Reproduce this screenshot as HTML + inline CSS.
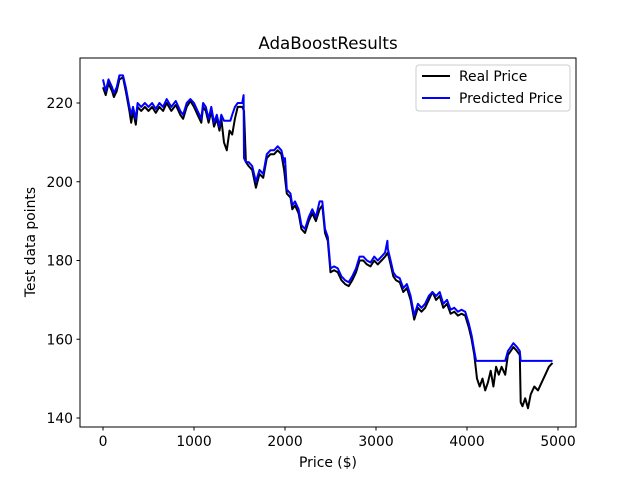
<!DOCTYPE html>
<html><head><meta charset="utf-8"><style>
body{margin:0;background:#fff;}
svg text{font-family:"DejaVu Sans","Liberation Sans",sans-serif;fill:#000;}
</style></head><body>
<svg id="chart" width="640" height="480" xmlns="http://www.w3.org/2000/svg">
<rect width="640" height="480" fill="#fff"/>
<text x="328" y="49" font-size="16.7" text-anchor="middle">AdaBoostResults</text>
<g id="marks"></g>
<rect x="80" y="58" width="496" height="369" fill="none" stroke="#000" stroke-width="1"/>
<g id="axes"></g>
<text x="328" y="467" font-size="13.9" text-anchor="middle">Price ($)</text>
<text transform="translate(35,242) rotate(-90)" font-size="13.9" text-anchor="middle">Test data points</text>
<g>
<rect x="416" y="65" width="154" height="46" rx="3" fill="#fff" stroke="#ccc" stroke-width="1"/>
<line x1="422" y1="76" x2="450" y2="76" stroke="#000" stroke-width="2"/>
<text x="459" y="81" font-size="13.9">Real Price</text>
<line x1="422" y1="98" x2="450" y2="98" stroke="#0000ff" stroke-width="2"/>
<text x="459" y="103" font-size="13.9">Predicted Price</text>
</g>
</svg>
<script>
const xTicks=[0,1000,2000,3000,4000,5000];
const yTicks=[140,160,180,200,220];
const realX=[0,30,60,100,120,150,180,220,250,290,310,330,360,380,420,460,500,540,580,620,660,700,750,800,850,880,920,960,1000,1040,1080,1100,1130,1160,1190,1220,1250,1280,1300,1330,1360,1390,1420,1450,1480,1530,1550,1570,1600,1640,1680,1720,1760,1800,1840,1880,1920,1960,1990,2020,2060,2080,2110,2150,2180,2220,2260,2300,2340,2380,2410,2440,2470,2500,2540,2580,2620,2660,2700,2740,2780,2820,2860,2900,2940,2980,3020,3060,3100,3130,3160,3190,3220,3260,3300,3340,3380,3420,3460,3500,3540,3580,3620,3660,3700,3740,3780,3820,3860,3900,3940,3980,4020,4050,4080,4110,4140,4170,4200,4230,4260,4290,4320,4350,4380,4420,4450,4480,4510,4550,4580,4590,4610,4640,4670,4700,4740,4780,4820,4860,4900,4940];
const realY=[224,222,225,223,221.5,223,226,226.5,223,218,215,218,214.5,219,218,219,218,219,217.5,219,218,220,218,219.5,217,216,219,220.5,219,217,215,219,218,215,218,214,216,213,216,210,208,213,212,216,219,219,218,205,204,203,198.5,202,201,206,207,207,208,207,203,197,196,193,194,192,188,187,190,192,190,193,194,187,185,177,177.5,177,175,174,173.5,175,177,180,180,179,178.5,180,179,180,181,182,179,176,175,174.5,172,173,170,165,168,167,168,170,172,170,171,168,169,166.5,167,166,166.5,166,163,160,156,150,148,150,147,149,152,148,153,151,153,151,156,157,158,157,156,144,143,145,142.5,146,148,147,149,151,153,154];
const predX=[0,30,60,100,120,150,180,220,250,290,310,330,360,380,420,460,500,540,580,620,660,700,750,800,850,880,920,960,1000,1040,1080,1100,1130,1160,1190,1220,1250,1280,1300,1330,1400,1420,1450,1480,1530,1545,1550,1570,1600,1640,1680,1720,1760,1800,1840,1880,1920,1960,1990,2000,2020,2060,2080,2110,2150,2180,2220,2260,2300,2340,2380,2410,2440,2470,2500,2540,2580,2620,2660,2700,2740,2780,2820,2860,2900,2940,2980,3020,3060,3100,3125,3130,3160,3190,3220,3260,3300,3340,3380,3420,3460,3500,3540,3580,3620,3660,3700,3740,3780,3820,3860,3900,3940,3980,4020,4050,4080,4100,4420,4450,4480,4510,4550,4580,4590,4940];
const predY=[226,223,226,224,222.5,224,227,227,224,219,217,219,216,220,219,220,219,220,218.5,220,219,221,219,220.5,218,217,220,221,220,218,216,220,219,216,219,215,217,214,217,215.5,215.5,217,219,220,220,222,206,205,205,204,200,203,202,207,208,208,209,208,205,206,198,197,194,195,193,189,188,191,193,191,195,195,188,186,178,178.5,178,176,175,174.5,176,178,181,181,180,179.5,181,180,181,182,185,183,180,177,176,175.5,173,174,171,166,169,168,169,171,172,171,172,169,170,167.5,168,167,167.5,167,164,161,157,154.5,154.5,157,158,159,158,157,154.5,154.5];
const xs=v=>103+v*0.091;
const ys=v=>103+(220-v)*3.9375;
const NS="http://www.w3.org/2000/svg";
const marks=document.getElementById('marks'),axes=document.getElementById('axes');
function series(X,Y,color,name){
  const p=document.createElementNS(NS,'polyline');
  p.setAttribute('points',X.map((x,i)=>xs(x).toFixed(1)+','+ys(Y[i]).toFixed(1)).join(' '));
  p.setAttribute('fill','none');p.setAttribute('stroke',color);p.setAttribute('stroke-width','2');p.setAttribute('stroke-linejoin','round');
  
  
  marks.appendChild(p);
}
series(realX,realY,'#000','real-price-line');
series(predX,predY,'#0000ff','predicted-price-line');
xTicks.forEach(t=>{
  const x=xs(t);
  const l=document.createElementNS(NS,'line');
  l.setAttribute('x1',x);l.setAttribute('x2',x);l.setAttribute('y1',427);l.setAttribute('y2',430.5);l.setAttribute('stroke','#000');
  
  
  axes.appendChild(l);
  const tx=document.createElementNS(NS,'text');
  tx.setAttribute('x',x);tx.setAttribute('y',446);tx.setAttribute('font-size','13.9');tx.setAttribute('text-anchor','middle');
  tx.textContent=t;
  
  
  axes.appendChild(tx);
});
yTicks.forEach(t=>{
  const y=ys(t);
  const l=document.createElementNS(NS,'line');
  l.setAttribute('x1',76.5);l.setAttribute('x2',80);l.setAttribute('y1',y);l.setAttribute('y2',y);l.setAttribute('stroke','#000');
  
  
  axes.appendChild(l);
  const tx=document.createElementNS(NS,'text');
  tx.setAttribute('x',73);tx.setAttribute('y',y+5);tx.setAttribute('font-size','13.9');tx.setAttribute('text-anchor','end');
  tx.textContent=t;
  
  
  axes.appendChild(tx);
});
</script>
</body></html>
